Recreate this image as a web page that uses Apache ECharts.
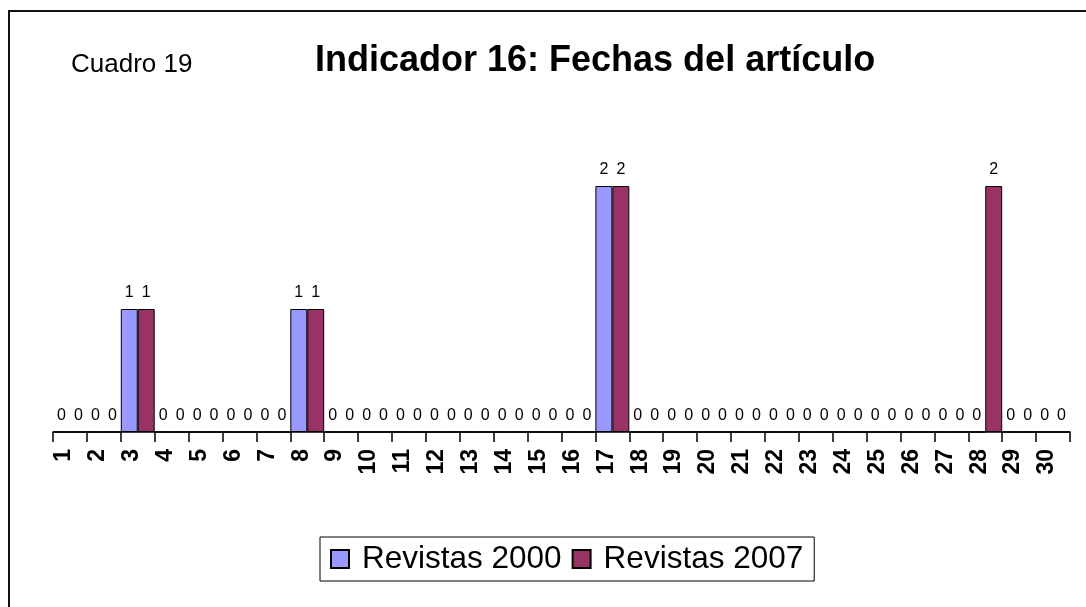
<!DOCTYPE html>
<html>
<head>
<meta charset="utf-8">
<script src="https://cdn.jsdelivr.net/npm/echarts@6/dist/echarts.min.js"></script>
<style>
  html, body { margin: 0; padding: 0; background: #fff; }
  #chart { width: 1086px; height: 607px; }
  .frame {
    position: absolute; left: 8px; top: 10px; right: 0; bottom: 0;
    border-left: 2px solid #111; border-top: 2px solid #111;
    pointer-events: none;
  }
</style>
</head>
<body>
<div id="chart"></div>
<div class="frame"></div>
<script>
// dias 1..30
const categories = ["1","2","3","4","5","6","7","8","9","10","11","12","13","14","15",
  "16","17","18","19","20","21","22","23","24","25","26","27","28","29","30"];
const revistas2000 = [0,0,1,0,0,0,0,1,0,0,0,0,0,0,0,0,2,0,0,0,0,0,0,0,0,0,0,0,0,0];
const revistas2007 = [0,0,1,0,0,0,0,1,0,0,0,0,0,0,0,0,2,0,0,0,0,0,0,0,0,0,0,2,0,0];

const chart = echarts.init(document.getElementById("chart"));

const barLabel = {
  show: true,
  position: "top",
  distance: 8,
  fontFamily: "Liberation Sans",
  fontSize: 16,
  color: "#000"
};

chart.setOption({
  animation: false,
  textStyle: { fontFamily: "Liberation Sans" },
  title: [
    {
      text: "Indicador 16: Fechas del artículo",
      left: 310,
      top: 38,
      textStyle: { fontFamily: "Liberation Sans", fontWeight: "bold", fontSize: 36, color: "#000" }
    },
    {
      text: "Cuadro 19",
      left: 66,
      top: 47,
      textStyle: { fontFamily: "Liberation Sans", fontWeight: "normal", fontSize: 26, color: "#000" }
    }
  ],
  legend: {
    left: 320,
    top: 537,
    padding: [6, 11, 6, 10],
    borderColor: "#000",
    borderWidth: 1,
    itemWidth: 18,
    itemHeight: 18,
    itemGap: 10,
    icon: "rect",
    textStyle: { fontFamily: "Liberation Sans", fontSize: 31.5, color: "#000", padding: [0, 0, 0, 8] },
    data: ["Revistas 2000", "Revistas 2007"]
  },
  grid: { left: 53, right: 16, top: 63, bottom: 175 },
  xAxis: {
    type: "category",
    data: categories,
    axisLine: { lineStyle: { color: "#000", width: 1.5 } },
    axisTick: { show: true, length: 10, lineStyle: { color: "#000", width: 1.5 } },
    axisLabel: {
      interval: 0,
      rotate: 90,
      margin: 17,
      fontFamily: "Liberation Sans",
      fontWeight: "bold",
      fontSize: 23,
      color: "#000",
      verticalAlign: "bottom",
      lineHeight: 12
    }
  },
  yAxis: { type: "value", min: 0, max: 3, show: false },
  series: [
    {
      name: "Revistas 2000",
      type: "bar",
      data: revistas2000,
      barGap: "0%",
      barCategoryGap: "0%",
      itemStyle: { color: "#9999FF", borderColor: "#000", borderWidth: 1 },
      label: barLabel
    },
    {
      name: "Revistas 2007",
      type: "bar",
      data: revistas2007,
      barGap: "0%",
      barCategoryGap: "0%",
      itemStyle: { color: "#993366", borderColor: "#000", borderWidth: 1 },
      label: barLabel
    }
  ]
});
</script>
</body>
</html>
